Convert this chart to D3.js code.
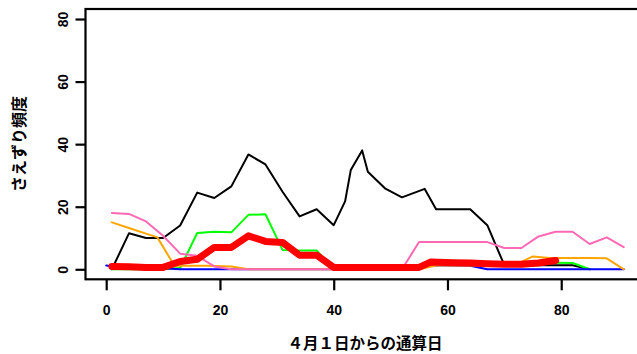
<!DOCTYPE html>
<html><head><meta charset="utf-8">
<script src="https://cdn.jsdelivr.net/npm/d3@7"></script>
<style>body{margin:0;background:#fff}svg{display:block}</style>
</head><body>
<svg id="c" width="637" height="354"></svg>
<script>
// ---- data ----
const xTicks = [0, 20, 40, 60, 80];
const yTicks = [0, 20, 40, 60, 80];
const xTitle = "４月１日からの通算日";
const yTitle = "さえずり頻度";

const blackX = [1,4,7,10,13,16,19,22,25,28,31,34,37,40,42,43,45,46,49,52,56,58,61,64,67,70,73,76,79,82,85];
const blackY = [0,11.5,10,10,14,24.5,22.8,26.5,36.7,33.5,24.8,16.9,19.2,14.1,21.7,31.7,38,31.2,25.9,23,25.7,19.2,19.2,19.2,14.1,1.3,1.3,1.3,1.3,1.3,0];

const greenX = [1,4,7,10,13,16,19,22,25,28,31,34,37,40,43,46,49,52,55,58,61,64,67,70,73,76,79,82,85];
const greenY = [0,0,0,0,0.4,11.6,12,11.8,17.4,17.6,6.2,6,6,0,0,0,0,0,0,2.2,2.2,2.2,2.2,2.2,2.2,2.2,2.1,2,0];

const blueX = [0,1,4,7,10,13,16,19,22,25,28,31,34,37,40,43,46,49,52,55,58,61,64,67,70,73,76,79,82,85,88,91];
const blueY = [1.2,1,0.7,0.5,0.3,0,0,0,0,0,0,0,0,0,0,0,0,0,0,1.2,1.2,1.2,1.1,0,0,0,0,0,0,0,0,0];

const orangeX = [1,4,7,9,12,15,18,22,25,28,31,34,37,40,43,46,49,52,55,58,61,64,67,70,72,75,78,82,85,88,91];
const orangeY = [15,13.2,11.4,10.2,1.1,1.1,1.1,0.9,0,0,0,0,0,0,0,0,0,0,0,1.2,1.2,1.2,1.2,1.2,1.5,4.1,3.6,3.6,3.6,3.5,0];

const pinkX = [1,4,7,10,13,16,19,22,25,28,31,34,37,40,43,46,49,52,55,58,61,64,67,70,73,76,79,82,85,88,91];
const pinkY = [18,17.7,15.3,10.7,5,4.3,0.9,0,0,0,0,0,0,0,0,0,0,0,8.7,8.7,8.7,8.7,8.7,6.8,6.8,10.5,12,12,8.1,10.2,7.1];

const redX = [1,4,7,10,13,16,19,22,25,28,31,34,37,40,43,46,49,52,55,57,61,64,67,70,73,76,79];
const redY = [0.9,0.8,0.6,0.6,2.5,3.2,7,7,10.7,8.9,8.6,4.5,4.5,0.6,0.6,0.6,0.6,0.6,0.6,2.3,2.1,2.0,1.8,1.6,1.6,2.0,2.8];

// ---- layout ----
const svg = d3.select("#c");
const L = 85.5, R = 644.5, T = 9, B = 279.3;
const x = d3.scaleLinear().domain([-3.64, 94.64]).range([L, R]);
const y = d3.scaleLinear().domain([-3.2, 83.2]).range([B, T]);
const numFont = "'Liberation Sans', Arial, sans-serif";
const jpFont = "'Noto Sans CJK JP', 'Noto Sans CJK SC', sans-serif";

const series = [
  {xs: blackX, ys: blackY, color: "#000000", w: 2},
  {xs: greenX, ys: greenY, color: "#00FF00", w: 2},
  {xs: blueX, ys: blueY, color: "#0000FF", w: 2},
  {xs: orangeX, ys: orangeY, color: "#FFA500", w: 2},
  {xs: pinkX, ys: pinkY, color: "#FF69B4", w: 2},
  {xs: redX, ys: redY, color: "#FF0000", w: 7}
];
const line = d3.line().x(d => x(d[0])).y(d => y(d[1]));
series.forEach(s => {
  const pts = s.xs.map((v, i) => [v, s.ys[i]]);
  svg.append("path").attr("d", line(pts)).attr("fill", "none")
    .attr("stroke", s.color).attr("stroke-width", s.w)
    .attr("stroke-linejoin", "round").attr("stroke-linecap", "round");
});

// box
svg.append("rect").attr("x", L).attr("y", T).attr("width", R - L).attr("height", B - T)
  .attr("fill", "none").attr("stroke", "#000").attr("stroke-width", 2.2);

// x axis
const xa = svg.append("g").attr("transform", `translate(0,${B})`)
  .call(d3.axisBottom(x).tickValues(xTicks).tickSize(11).tickSizeOuter(0).tickPadding(6).tickFormat(d3.format("d")));
xa.select(".domain").remove();
xa.selectAll(".tick line").attr("stroke-width", 2.2);
xa.selectAll(".tick text").attr("font-family", numFont).attr("font-size", 14).attr("font-weight", "bold").attr("fill", "#000")
  .attr("y", 0).attr("dy", 0).attr("transform", "translate(0,36)");

// y axis
const ya = svg.append("g").attr("transform", `translate(${L},0)`)
  .call(d3.axisLeft(y).tickValues(yTicks).tickSize(10).tickSizeOuter(0).tickFormat(d3.format("d")));
ya.select(".domain").remove();
ya.selectAll(".tick line").attr("stroke-width", 2.2);
ya.selectAll(".tick text").attr("font-family", numFont).attr("font-size", 14).attr("font-weight", "bold").attr("fill", "#000")
  .attr("x", 0).attr("dy", 0).attr("text-anchor", "middle")
  .attr("transform", "translate(-23,0) rotate(-90) translate(0,5)");

// titles
svg.append("text").attr("x", 365).attr("y", 349).attr("text-anchor", "middle")
  .attr("font-family", jpFont).attr("font-size", 15.5).attr("font-weight", "bold").text(xTitle);
svg.append("text").attr("transform", "translate(25,144) rotate(-90)").attr("text-anchor", "middle")
  .attr("font-family", jpFont).attr("font-size", 16).attr("font-weight", "bold").text(yTitle);
</script>
</body></html>
